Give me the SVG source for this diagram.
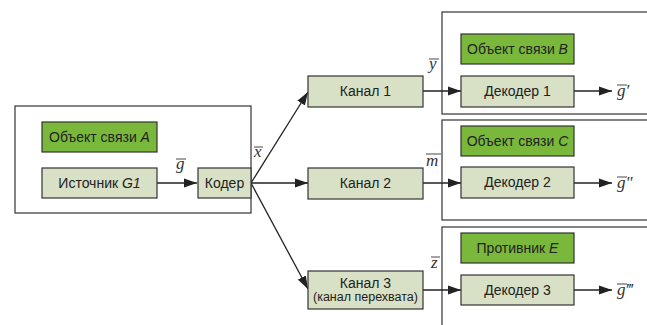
<svg xmlns="http://www.w3.org/2000/svg" width="647" height="325" viewBox="0 0 647 325">
<style>
.frame{fill:#fff;stroke:#333;stroke-width:1.2}
.dark{fill:#79b83b;stroke:#333;stroke-width:1.2}
.light{fill:#d8e0c5;stroke:#333;stroke-width:1.2}
.t{font-family:"Liberation Sans",Arial,sans-serif;font-size:14px;fill:#222;text-anchor:middle}
.s{font-size:12.5px}
.m{font-family:"Liberation Serif","Times New Roman",serif;font-style:italic;font-size:17px;fill:#333}
.ov{stroke:#333;stroke-width:0.9}
.c{stroke:#222;stroke-width:1.3;fill:none}
</style>
<defs>
<marker id="ah" markerWidth="14" markerHeight="10" refX="13" refY="5" orient="auto" markerUnits="userSpaceOnUse">
<path d="M0,0.5 L13,5 L0,9.5 Z" fill="#222"/>
</marker>
</defs>
<rect width="647" height="325" fill="#fff"/>
<g id="frames">
<rect class="frame" x="15" y="106" width="236" height="107"/>
<rect class="frame" x="442" y="12" width="220" height="102"/>
<rect class="frame" x="442" y="120" width="220" height="100"/>
<rect class="frame" x="442" y="227" width="220" height="120"/>
</g>
<g id="connectors">
<line class="c" x1="157" y1="183" x2="197" y2="183" marker-end="url(#ah)"/>
<line class="c" x1="251" y1="183" x2="308" y2="92" marker-end="url(#ah)"/>
<line class="c" x1="251" y1="183" x2="308" y2="183" marker-end="url(#ah)"/>
<line class="c" x1="251" y1="183" x2="308" y2="289" marker-end="url(#ah)"/>
<line class="c" x1="423" y1="91" x2="461" y2="91" marker-end="url(#ah)"/>
<line class="c" x1="423" y1="183" x2="461" y2="183" marker-end="url(#ah)"/>
<line class="c" x1="423" y1="290" x2="461" y2="290" marker-end="url(#ah)"/>
<line class="c" x1="574" y1="91" x2="612" y2="91" marker-end="url(#ah)"/>
<line class="c" x1="574" y1="183" x2="612" y2="183" marker-end="url(#ah)"/>
<line class="c" x1="574" y1="290" x2="612" y2="290" marker-end="url(#ah)"/>
</g>
<g id="objA"><rect class="dark" x="42" y="122" width="115" height="30"/><text class="t" x="99.5" y="142">Объект связи <tspan font-style="italic">A</tspan></text></g>
<g id="source"><rect class="light" x="42" y="168" width="115" height="30"/><text class="t" x="99.5" y="188">Источник <tspan font-style="italic">G1</tspan></text></g>
<g id="coder"><rect class="light" x="198" y="168" width="53" height="30"/><text class="t" x="224.5" y="188">Кодер</text></g>
<g id="ch1"><rect class="light" x="308" y="76" width="115" height="31"/><text class="t" x="365.5" y="96">Канал 1</text></g>
<g id="ch2"><rect class="light" x="308" y="168" width="115" height="31"/><text class="t" x="365.5" y="188">Канал 2</text></g>
<g id="ch3"><rect class="light" x="308" y="271" width="115" height="38"/><text class="t" x="365.5" y="288">Канал 3</text><text class="t s" x="365.5" y="301">(канал перехвата)</text></g>
<g id="objB"><rect class="dark" x="461" y="34" width="113" height="30"/><text class="t" x="517.5" y="54">Объект связи <tspan font-style="italic">B</tspan></text></g>
<g id="dec1"><rect class="light" x="461" y="76" width="113" height="31"/><text class="t" x="517.5" y="96">Декодер 1</text></g>
<g id="objC"><rect class="dark" x="461" y="126" width="113" height="30"/><text class="t" x="517.5" y="146">Объект связи <tspan font-style="italic">C</tspan></text></g>
<g id="dec2"><rect class="light" x="461" y="167" width="113" height="31"/><text class="t" x="517.5" y="187">Декодер 2</text></g>
<g id="objE"><rect class="dark" x="461" y="233" width="113" height="30"/><text class="t" x="517.5" y="253">Противник <tspan font-style="italic">E</tspan></text></g>
<g id="dec3"><rect class="light" x="461" y="275" width="113" height="30"/><text class="t" x="517.5" y="295">Декодер 3</text></g>
<g id="labels">
<text class="m" x="176" y="169">g</text><line class="ov" x1="176" y1="159" x2="186" y2="159"/>
<text class="m" x="254" y="157">x</text><line class="ov" x1="254" y1="147" x2="263" y2="147"/>
<text class="m" x="429" y="69">y</text><line class="ov" x1="429" y1="59" x2="439" y2="59"/>
<text class="m" x="426" y="166">m</text><line class="ov" x1="426" y1="154" x2="441" y2="154"/>
<text class="m" x="431" y="268">z</text><line class="ov" x1="431" y1="257" x2="440" y2="257"/>
<text class="m" x="617" y="96">g′</text><line class="ov" x1="617" y1="85" x2="627" y2="85"/>
<text class="m" x="617" y="188">g″</text><line class="ov" x1="617" y1="177" x2="627" y2="177"/>
<text class="m" x="617" y="295">g‴</text><line class="ov" x1="617" y1="284" x2="627" y2="284"/>
</g>
</svg>
